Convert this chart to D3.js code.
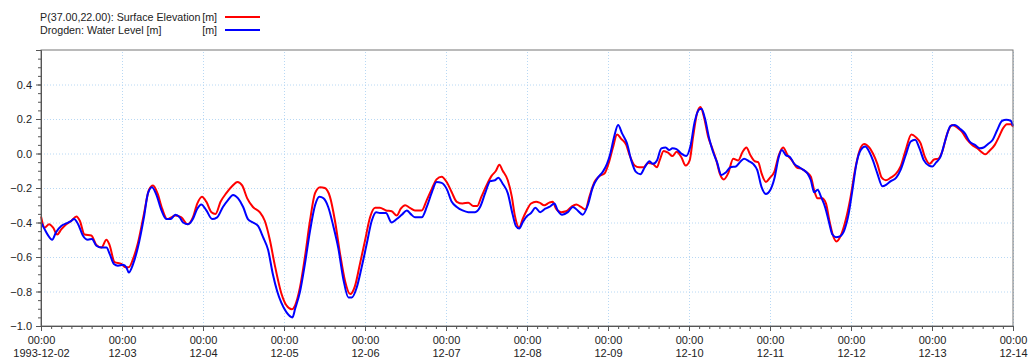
<!DOCTYPE html>
<html>
<head>
<meta charset="utf-8">
<script src="https://cdn.jsdelivr.net/npm/d3@7"></script>
<style>
  body { margin: 0; background: #fff; }
  svg { display: block; font-family: "Liberation Sans", Arial, sans-serif; }
  .axis text { font-size: 11px; fill: #222; }
  .axis path, .axis line { stroke: #555; }
  .grid line { stroke: #b8d8f4; stroke-dasharray: 1,2; }
  .grid path { display: none; }
</style>
</head>
<body>
<svg id="svg1" width="1035" height="363"></svg>
<script>
// hours since 1993-12-02 00:00 and values [m]
var redHours = [0,1.1,2.4,3.6,4.8,6,7.5,9,10.5,11.5,12.9,14.9,16.4,17.9,19.4,20.3,21.8,23.8,25,26,27.3,28.7,30.5,32,33.2,34.5,35.9,37.4,38.6,39.8,41.6,43.4,45,46.3,47.7,49,50.5,51.7,53.2,54.9,56.6,58.2,59.6,61.1,62.8,64.8,66.3,67.8,69.2,71.2,72.7,
  74.3,75.3,76.7,78.2,79.7,81.2,82.7,84.1,85.6,87.1,88.6,90.1,91.6,93,94.5,96,97.5,99,100.4,102.2,103.9,105.4,106.6,107.9,109.3,110.8,112.8,114.3,115.8,117.2,118.7,120.2,121.7,123.2,124.9,126.6,128.1,129.2,130.5,132,133.5,134.8,135.8,136.8,138.3,139.5,140.4,
  141.7,142.7,143.9,145.2,146.7,147.7,149.1,150.6,151.6,152.6,154.1,155.6,157.1,158.6,160,161.3,162.5,164,165.5,167,168.3,169.4,170.7,171.9,173.4,174.4,175.9,177.2,178.6,179.8,181.3,182.5,183.3,184.5,185.8,187.1,188.3,189.7,191,192.2,193.2,194.4,195.4,196.4,197.7,198.9,200.1,201.1,202.3,203.6,205.1,206.6,207.9,209,210.2,211.5,212.5,213.5,
  214.8,216,217.3,218.6,219.9,221.2,222.5,223.9,225.5,226.6,228.1,229.1,230.1,231.4,232.6,233.5,234.5,235.7,237,238.5,239.9,241.2,242.6,243.9,245.4,246.5,247.8,249.1,250.3,251.8,253.2,254.7,256.2,257.9,259.2,260.6,261.9,263.3,264.6,265.9,267,268.5,270,271.5,272.9,274.4,275.9,277.4,278.9,279.8,281,282.6,283.8,285,286.2,287.4,288];
var redValues = [-0.365,-0.43,-0.41,-0.43,-0.47,-0.44,-0.41,-0.39,-0.365,-0.39,-0.47,-0.475,-0.53,-0.545,-0.50,-0.53,-0.63,-0.64,-0.66,-0.66,-0.61,-0.52,-0.35,-0.21,-0.185,-0.23,-0.32,-0.38,-0.37,-0.36,-0.37,-0.41,-0.37,-0.29,-0.25,-0.28,-0.34,-0.35,-0.28,-0.23,-0.19,-0.165,-0.185,-0.26,-0.31,-0.34,-0.39,-0.50,-0.64,-0.81,-0.88,
  -0.903,-0.88,-0.78,-0.60,-0.39,-0.23,-0.195,-0.20,-0.25,-0.39,-0.58,-0.74,-0.815,-0.77,-0.64,-0.505,-0.37,-0.315,-0.315,-0.33,-0.335,-0.36,-0.32,-0.30,-0.315,-0.33,-0.33,-0.27,-0.205,-0.15,-0.135,-0.165,-0.225,-0.28,-0.29,-0.285,-0.305,-0.305,-0.25,-0.185,-0.13,-0.10,-0.065,-0.10,-0.155,-0.25,-0.36,
  -0.43,-0.38,-0.33,-0.29,-0.28,-0.285,-0.30,-0.285,-0.28,-0.32,-0.34,-0.335,-0.31,-0.295,-0.31,-0.325,-0.25,-0.165,-0.13,-0.115,-0.05,0.03,0.11,0.085,0.05,-0.01,-0.07,-0.08,-0.08,-0.055,-0.06,-0.08,-0.04,0.015,0.005,-0.015,0.01,-0.02,-0.07,-0.04,0.095,0.235,0.27,0.215,0.095,0.03,-0.04,-0.115,-0.15,-0.115,-0.03,-0.04,0.01,0.035,-0.01,-0.045,-0.05,-0.115,
  -0.165,-0.14,-0.105,-0.01,0.035,-0.01,-0.04,-0.08,-0.09,-0.105,-0.135,-0.215,-0.26,-0.26,-0.29,-0.38,-0.465,-0.51,-0.475,-0.38,-0.25,-0.095,0.02,0.055,0.035,0.0,-0.06,-0.14,-0.155,-0.14,-0.12,-0.075,0.02,0.11,0.095,0.06,-0.02,-0.06,-0.035,-0.03,0.01,0.115,0.165,0.15,0.125,0.08,0.05,0.03,0.005,-0.005,0.015,0.05,0.095,0.145,0.17,0.17,0.155];

var blueHours = [0,1.1,2.1,3.3,4.5,6,7.5,9,9.8,11,12.4,13.9,15.1,16.4,17.9,19.4,20.3,21.6,22.8,24.3,25.3,26,27.3,28.7,30.5,31.7,32.9,34.2,35.7,37.1,38.4,39.8,41.1,42.1,43.6,45,46.3,47.5,49,50.7,52.2,53.9,55.4,56.9,58.4,59.9,61.3,62.8,64.3,65.8,67.3,68.7,70,71.2,72.7,
  74.5,75.3,76.7,78.2,79.7,81.2,82.5,83.7,85.1,86.6,88.1,89.6,91.1,92.1,93.5,95,96.5,98,99.3,100.4,102.2,103.9,105.4,106.9,108.4,109.5,110.8,112.8,114.3,115.8,117.2,118.7,120.2,121.7,123.2,124.9,126.6,128.6,130.1,131.6,133.1,134.5,135.5,136.8,138.3,139.7,140.7,
  141.7,142.7,143.9,145.2,146.5,147.9,149.4,150.6,152.1,153.1,154.4,156.1,157.6,159,160.5,162,163.5,165,166.5,167.7,168.7,169.8,171,172.2,173.6,174.9,176.2,177.6,178.9,180.3,181.3,182.5,183.8,185.1,186.1,187.1,188.3,189.7,191.2,192.4,193.7,195,195.7,196.7,198,199.1,200.3,201.6,202.9,204.3,205.9,207.1,208.3,209.8,211,212.2,213.5,
  214.8,216,217.3,218.6,219.5,220.7,221.9,223.2,224.7,225.9,227.1,228.1,229.1,230.1,231.1,232.4,233.5,234.5,235.5,236.7,238,239.3,240.4,241.6,242.9,244.2,245.4,246.5,247.8,249.3,250.5,251.8,253.4,254.7,256.2,257.7,259,260.3,261.6,263.1,264.1,265.3,266.5,268,269.5,270.8,272.2,273.8,275.1,276.7,278.1,279.3,280.6,282,283.3,284.8,286,287.3,288];
var blueValues = [-0.40,-0.44,-0.475,-0.50,-0.455,-0.42,-0.405,-0.39,-0.38,-0.41,-0.475,-0.50,-0.495,-0.535,-0.545,-0.545,-0.58,-0.64,-0.65,-0.645,-0.66,-0.69,-0.64,-0.545,-0.37,-0.23,-0.195,-0.24,-0.33,-0.38,-0.38,-0.355,-0.37,-0.40,-0.41,-0.38,-0.32,-0.295,-0.33,-0.38,-0.37,-0.31,-0.27,-0.24,-0.26,-0.31,-0.38,-0.40,-0.42,-0.485,-0.56,-0.70,-0.80,-0.865,-0.92,
  -0.95,-0.90,-0.805,-0.64,-0.45,-0.30,-0.25,-0.26,-0.31,-0.42,-0.55,-0.73,-0.835,-0.835,-0.78,-0.66,-0.525,-0.39,-0.34,-0.345,-0.345,-0.40,-0.38,-0.355,-0.33,-0.35,-0.37,-0.37,-0.31,-0.225,-0.165,-0.17,-0.205,-0.28,-0.31,-0.33,-0.34,-0.34,-0.31,-0.23,-0.16,-0.155,-0.14,-0.175,-0.23,-0.35,-0.42,
  -0.435,-0.40,-0.365,-0.345,-0.315,-0.34,-0.32,-0.31,-0.29,-0.33,-0.355,-0.34,-0.31,-0.33,-0.355,-0.30,-0.195,-0.14,-0.105,-0.06,0.0,0.095,0.165,0.115,0.06,-0.04,-0.105,-0.12,-0.08,-0.045,-0.06,-0.04,0.03,0.035,0.02,0.03,0.025,0.0,-0.015,0.04,0.185,0.255,0.26,0.205,0.085,0.01,-0.05,-0.125,-0.11,-0.08,-0.075,-0.05,-0.03,-0.045,-0.06,-0.095,-0.195,
  -0.235,-0.215,-0.145,-0.02,0.02,-0.01,-0.02,-0.06,-0.08,-0.095,-0.115,-0.155,-0.225,-0.21,-0.25,-0.315,-0.40,-0.47,-0.485,-0.48,-0.445,-0.35,-0.215,-0.06,0.02,0.04,0.01,-0.04,-0.115,-0.19,-0.18,-0.16,-0.14,-0.095,-0.01,0.07,0.08,0.03,-0.04,-0.07,-0.075,-0.05,-0.02,0.08,0.16,0.165,0.145,0.115,0.07,0.05,0.03,0.035,0.055,0.08,0.135,0.19,0.195,0.19,0.16];

var yTicks = [0.4, 0.2, 0.0, -0.2, -0.4, -0.6, -0.8, -1.0];
var legendLabels = ["P(37.00,22.00): Surface Elevation", "Drogden: Water Level [m]"];
var legendUnits = ["[m]", "[m]"];
var colors = ["#ff0000", "#0000ff"];

var start = Date.UTC(1993, 11, 2);
var end = Date.UTC(1993, 11, 14);

var svg = d3.select("#svg1"),
    margin = {top: 50, right: 22, bottom: 37, left: 41},
    width = +svg.attr("width") - margin.left - margin.right,
    height = +svg.attr("height") - margin.top - margin.bottom,
    g = svg.append("g").attr("transform", "translate(" + margin.left + "," + margin.top + ")");

var x = d3.scaleUtc().domain([start, end]).range([0, width]);
var y = d3.scaleLinear().domain([-1.0, 0.6]).range([height, 0]);

function toDate(h) { return new Date(start + h * 3600e3); }

// grid
g.append("g").attr("class", "grid")
  .attr("transform", "translate(0," + height + ")")
  .call(d3.axisBottom(x).ticks(d3.utcDay.every(1)).tickSize(-height).tickFormat(""));
g.append("g").attr("class", "grid")
  .call(d3.axisLeft(y).tickValues(yTicks).tickSize(-width).tickFormat(""));

// lines
var line = d3.line()
  .x(function(d) { return x(toDate(d[0])); })
  .y(function(d) { return y(d[1]); })
  .curve(d3.curveMonotoneX);

var series = [d3.zip(redHours, redValues), d3.zip(blueHours, blueValues)];
series.forEach(function(s, i) {
  g.append("path").datum(s)
    .attr("fill", "none")
    .attr("stroke", colors[i])
    .attr("stroke-width", 2)
    .attr("stroke-linejoin", "round")
    .attr("d", line);
});

// frame
g.append("rect").attr("width", width).attr("height", height)
  .attr("fill", "none").attr("stroke", "#777").attr("stroke-width", 1);

// minor ticks
g.append("g").attr("class", "axis")
  .attr("transform", "translate(0," + height + ")")
  .call(d3.axisBottom(x).ticks(d3.utcHour.every(3)).tickSize(3).tickFormat(""))
  .select(".domain").remove();
g.append("g").attr("class", "axis")
  .call(d3.axisLeft(y).ticks(32).tickSize(3).tickFormat(""))
  .select(".domain").remove();

// x axis
var fmtDay = d3.utcFormat("%m-%d"), fmtFull = d3.utcFormat("%Y-%m-%d");
var xAxis = g.append("g").attr("class", "axis")
  .attr("transform", "translate(0," + height + ")")
  .call(d3.axisBottom(x).ticks(d3.utcDay.every(1)).tickSize(5).tickPadding(4).tickFormat(""));
xAxis.selectAll(".tick").each(function(d, i) {
  var t = d3.select(this).append("text").attr("y", 18).attr("text-anchor", "middle");
  t.append("tspan").attr("x", 0).text("00:00");
  t.append("tspan").attr("x", 0).attr("dy", 13).text(i === 0 ? fmtFull(d) : fmtDay(d));
});

// y axis
g.append("g").attr("class", "axis")
  .call(d3.axisLeft(y).tickValues(yTicks).tickSize(5).tickPadding(4).tickFormat(d3.format(".1f")))
  .selectAll(".tick text").attr("dy", "0.35em");

// legend
var legend = svg.append("g").attr("transform", "translate(40,0)");
legendLabels.forEach(function(lbl, i) {
  var yy = 21 + i * 13;
  legend.append("text").attr("x", 0).attr("y", yy).attr("font-size", 10.7).attr("fill", "#222").text(lbl);
  legend.append("text").attr("x", 177).attr("y", yy).attr("font-size", 10.7).attr("fill", "#222")
    .attr("text-anchor", "end").text(legendUnits[i]);
  legend.append("line").attr("x1", 185).attr("x2", 220).attr("y1", yy - 4).attr("y2", yy - 4)
    .attr("stroke", colors[i]).attr("stroke-width", 2);
});
</script>
</body>
</html>
